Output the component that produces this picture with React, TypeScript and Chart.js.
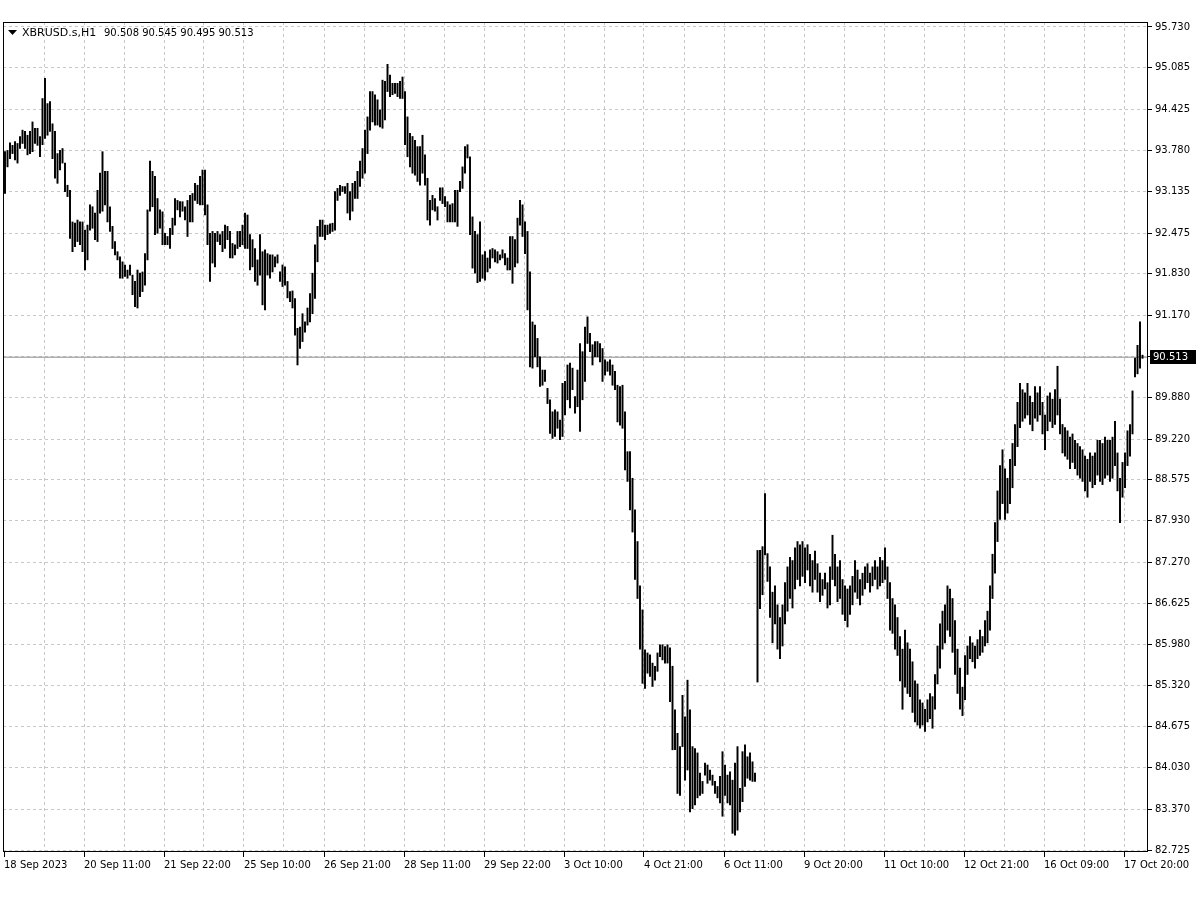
import React, { useEffect, useRef } from "react";
import { Chart, registerables } from "chart.js";
Chart.register(...registerables);

const symbolTitle = "XBRUSD.s,H1";
const lastOHLC = [90.508, 90.545, 90.495, 90.513];
const currentPrice = 90.513;

const xLabels = [
  "18 Sep 2023", "20 Sep 11:00", "21 Sep 22:00", "25 Sep 10:00", "26 Sep 21:00",
  "28 Sep 11:00", "29 Sep 22:00", "3 Oct 10:00", "4 Oct 21:00", "6 Oct 11:00",
  "9 Oct 20:00", "11 Oct 10:00", "12 Oct 21:00", "16 Oct 09:00", "17 Oct 20:00",
];

const yTickValues = [
  95.73, 95.085, 94.425, 93.78, 93.135, 92.475, 91.83, 91.17, 90.525, 89.88,
  89.22, 88.575, 87.93, 87.27, 86.625, 85.98, 85.32, 84.675, 84.03, 83.37, 82.725,
];

// hourly bar highs
const barHighs = [
  93.76, 93.78, 93.90, 93.86, 93.92, 93.89, 94.00, 94.10, 94.08, 94.02, 94.08, 94.23, 94.13, 94.13, 94.00, 94.60, 94.92, 94.52, 94.55, 94.20,
  94.08, 93.73, 93.78, 93.81, 93.58, 93.23, 93.15, 92.65, 92.63, 92.68, 92.65, 92.65, 92.52, 92.60, 92.92, 92.89, 92.79,
  93.15, 93.42, 93.76, 93.45, 93.45, 92.89, 92.58, 92.34, 92.18, 92.10, 92.02, 91.97, 91.89, 91.97, 91.81, 91.71, 91.89, 91.84, 91.86,
  92.15, 92.84, 93.61, 93.45, 93.37, 93.02, 92.84, 92.81, 92.47, 92.42, 92.55, 92.71, 93.02, 92.99, 92.97, 92.97, 92.89, 92.99, 93.07,
  93.10, 93.26, 93.23, 93.37, 93.47, 93.47, 92.92, 92.47, 92.50, 92.47, 92.50, 92.45, 92.50, 92.60, 92.58, 92.50, 92.31, 92.29, 92.50,
  92.50, 92.60, 92.79, 92.76, 92.45, 92.37, 92.23, 92.05, 92.45, 92.18, 92.21, 92.15, 92.13, 92.13, 92.10, 92.13, 91.86, 91.97, 91.94, 91.71,
  91.55, 91.56, 91.44, 90.97, 90.99, 91.20, 91.07, 91.29, 91.52, 91.84, 92.29, 92.58, 92.68, 92.68, 92.60, 92.60, 92.62, 92.63, 93.13,
  93.18, 93.23, 93.21, 93.21, 93.26, 93.13, 93.26, 93.29, 93.45, 93.61, 93.81, 94.10, 94.31, 94.71, 94.71, 94.66, 94.58, 94.42, 94.89,
  94.87, 95.14, 94.97, 94.84, 94.84, 94.84, 94.87, 94.94, 94.71, 94.31, 94.05, 94.00, 93.94, 93.84, 93.84, 94.02, 93.71, 93.34, 92.99,
  93.07, 93.02, 92.89, 93.19, 93.19, 93.05, 92.97, 92.92, 92.94, 93.15, 93.15, 93.29, 93.52, 93.84, 93.87, 93.68, 92.73, 92.50, 92.45, 92.65,
  92.13, 92.18, 92.08, 92.21, 92.23, 92.21, 92.18, 92.13, 92.21, 92.15, 92.08, 92.42, 92.42, 92.37, 92.71, 92.99, 92.92, 92.65, 92.50,
  91.86, 91.07, 91.02, 90.81, 90.52, 90.31, 90.31, 90.02, 89.84, 89.65, 89.68, 89.65, 89.52, 90.10, 90.13, 90.39, 90.42, 90.34, 89.89,
  90.31, 90.73, 90.60, 90.99, 91.15, 90.89, 90.71, 90.76, 90.76, 90.73, 90.65, 90.47, 90.44, 90.47, 90.39, 90.29, 90.07, 90.05, 90.07,
  89.65, 89.02, 89.02, 88.60, 88.10, 87.60, 86.90, 86.52, 85.89, 85.84, 85.81, 85.68, 85.63, 85.84, 85.97, 85.97, 85.94, 85.97, 85.92, 85.63,
  84.94, 84.57, 84.36, 85.17, 84.83, 85.41, 84.94, 84.36, 84.33, 84.26, 83.94, 83.81, 84.10, 84.07, 83.99, 83.91, 83.81, 83.73, 83.89,
  84.28, 84.07, 83.91, 83.96, 83.83, 84.10, 84.36, 83.70, 84.28, 84.39, 84.20, 84.26, 84.12, 83.94, 87.46, 87.46, 87.52, 88.36, 87.41,
  87.20, 86.80, 86.90, 86.60, 86.40, 86.60, 86.95, 87.20, 87.35, 87.30, 87.50, 87.60, 87.55, 87.60, 87.50, 87.55, 87.40, 87.30, 87.45,
  87.25, 87.10, 87.00, 87.10, 86.95, 87.20, 87.70, 87.40, 87.20, 87.30, 87.00, 86.90, 86.85, 86.90, 87.05, 87.30, 87.15, 87.00, 87.10,
  87.20, 87.25, 87.10, 87.20, 87.30, 87.20, 87.35, 87.30, 87.50, 87.20, 86.95, 86.70, 86.60, 86.40, 86.10, 85.90, 86.20, 86.00, 85.90,
  85.70, 85.40, 85.35, 85.10, 85.05, 84.95, 85.10, 85.20, 85.15, 85.50, 85.95, 86.30, 86.50, 86.60, 86.90, 86.85, 86.70, 86.35, 85.90, 85.60,
  85.30, 85.80, 85.95, 86.10, 86.00, 85.95, 86.05, 86.20, 86.10, 86.35, 86.50, 86.90, 87.40, 87.90, 88.40, 88.80, 89.05, 88.75, 88.60,
  88.90, 89.15, 89.45, 89.80, 90.10, 90.00, 89.95, 90.10, 89.90, 89.80, 90.05, 89.95, 90.05, 89.80, 89.60, 89.90, 89.95, 89.85, 90.00,
  90.37, 89.85, 89.45, 89.40, 89.35, 89.25, 89.30, 89.20, 89.15, 89.10, 89.05, 88.95, 88.90, 89.00, 88.95, 89.00, 89.20, 89.20,
  89.15, 89.25, 89.20, 89.20, 89.25, 89.50, 89.00, 88.60, 88.85, 89.00, 89.35, 89.45, 89.98, 90.50, 90.70, 91.07, 90.545,
];

// hourly bar lows
const barLows = [
  93.10, 93.52, 93.65, 93.73, 93.63, 93.58, 93.81, 93.89, 93.81, 93.71, 93.73, 93.76, 93.89, 93.86, 93.68, 93.87, 93.97, 94.02, 94.08, 93.65,
  93.34, 93.26, 93.47, 93.58, 93.13, 93.05, 92.39, 92.18, 92.26, 92.34, 92.29, 92.18, 91.89, 92.05, 92.52, 92.55, 92.37,
  92.34, 92.79, 92.82, 92.92, 92.65, 92.50, 92.23, 92.13, 92.05, 91.76, 91.76, 91.79, 91.76, 91.81, 91.50, 91.31, 91.29, 91.47, 91.55,
  91.65, 92.05, 92.82, 92.89, 92.45, 92.47, 92.55, 92.29, 92.29, 92.29, 92.23, 92.45, 92.60, 92.84, 92.73, 92.82, 92.68, 92.42, 92.65,
  92.65, 92.99, 92.94, 92.92, 92.92, 92.76, 92.29, 91.71, 92.00, 91.94, 92.34, 92.29, 92.18, 92.23, 92.37, 92.08, 92.08, 92.13, 92.23,
  92.26, 92.29, 92.23, 92.23, 91.89, 91.94, 91.71, 91.65, 91.81, 91.34, 91.26, 91.81, 91.76, 91.86, 91.94, 92.00, 91.71, 91.63, 91.65, 91.45,
  91.39, 91.29, 90.86, 90.39, 90.65, 90.76, 90.91, 91.02, 91.07, 91.20, 91.44, 92.02, 92.42, 92.42, 92.37, 92.45, 92.47, 92.50, 92.52,
  92.99, 93.07, 93.13, 93.10, 92.79, 92.68, 92.82, 93.02, 93.02, 93.21, 93.34, 93.42, 93.73, 94.10, 94.23, 94.18, 94.18, 94.15, 94.13,
  94.26, 94.71, 94.63, 94.66, 94.68, 94.63, 94.60, 94.60, 93.87, 93.68, 93.52, 93.42, 93.39, 93.29, 93.23, 93.42, 93.23, 92.68, 92.60,
  92.84, 92.82, 92.68, 92.99, 92.94, 92.89, 92.65, 92.65, 92.65, 92.65, 92.58, 93.13, 93.18, 93.42, 93.66, 92.45, 91.92, 91.84, 91.69, 91.71,
  91.76, 91.73, 91.86, 91.92, 92.08, 92.02, 92.00, 92.05, 92.08, 91.97, 91.89, 91.89, 91.68, 91.94, 92.00, 92.60, 92.42, 92.15, 91.26,
  90.36, 90.34, 90.52, 90.36, 90.05, 90.07, 90.13, 89.78, 89.31, 89.23, 89.26, 89.39, 89.21, 89.26, 89.60, 89.84, 89.71, 90.00, 89.63,
  89.73, 89.34, 89.84, 90.13, 90.73, 90.60, 90.39, 90.52, 90.52, 90.44, 90.13, 90.23, 90.29, 90.23, 90.07, 90.00, 89.49, 89.44, 89.39,
  88.73, 88.55, 88.10, 87.75, 87.00, 86.70, 85.90, 85.36, 85.28, 85.52, 85.47, 85.31, 85.41, 85.55, 85.78, 85.73, 85.68, 85.68, 85.07, 84.31,
  84.31, 83.62, 83.59, 84.36, 83.83, 83.99, 83.33, 83.38, 83.44, 83.55, 83.59, 83.62, 83.91, 83.78, 83.83, 83.75, 83.62, 83.55, 83.47,
  83.26, 83.59, 83.47, 83.44, 82.99, 82.96, 83.04, 83.33, 83.49, 83.73, 83.86, 83.83, 83.81, 83.81, 85.38, 86.54, 86.76, 87.39, 86.97,
  86.40, 86.00, 86.30, 85.90, 85.75, 85.95, 86.30, 86.50, 86.70, 86.55, 86.85, 87.00, 86.90, 87.05, 86.95, 87.15, 86.90, 86.80, 87.00,
  86.80, 86.65, 86.75, 86.85, 86.55, 86.60, 87.00, 86.90, 86.65, 86.70, 86.45, 86.35, 86.25, 86.45, 86.60, 86.80, 86.70, 86.60, 86.75,
  86.85, 86.95, 86.80, 86.90, 87.00, 86.85, 86.90, 86.95, 87.00, 86.70, 86.20, 86.15, 85.90, 85.80, 85.40, 84.95, 85.30, 85.20, 85.15,
  84.90, 84.75, 84.70, 84.65, 84.70, 84.60, 84.75, 84.80, 84.65, 84.95, 85.35, 85.60, 85.90, 86.00, 86.20, 86.10, 85.85, 85.50, 85.20, 84.95,
  84.85, 85.10, 85.50, 85.75, 85.70, 85.60, 85.75, 85.80, 85.85, 85.95, 86.00, 86.20, 86.70, 87.10, 87.60, 87.95, 88.20, 87.95, 88.05,
  88.20, 88.45, 88.80, 89.10, 89.40, 89.50, 89.55, 89.60, 89.45, 89.35, 89.55, 89.50, 89.60, 89.30, 89.05, 89.35, 89.50, 89.40, 89.45,
  89.60, 89.30, 89.00, 88.95, 88.90, 88.75, 88.85, 88.75, 88.65, 88.60, 88.55, 88.40, 88.30, 88.55, 88.45, 88.50, 88.65, 88.55,
  88.50, 88.60, 88.65, 88.55, 88.60, 88.80, 88.40, 87.90, 88.30, 88.45, 88.80, 88.95, 89.30, 90.20, 90.25, 90.34, 90.495,
];

const FONT = "DejaVu Sans";

export default function App() {
  const ref = useRef<HTMLCanvasElement | null>(null);

  useEffect(() => {
    document.body.style.margin = "0";
    const canvas = ref.current;
    if (!canvas) return;
    const n = barHighs.length;
    const xMin = -0.8;
    const xMax = n + 1.2;

    const overlay = {
      id: "mtOverlay",
      afterDraw(chart: any) {
        const { ctx, chartArea } = chart;
        const ys = chart.scales.y;
        ctx.save();
        // frame
        ctx.strokeStyle = "#000";
        ctx.lineWidth = 1;
        ctx.strokeRect(
          Math.round(chartArea.left) + 0.5,
          Math.round(chartArea.top) + 0.5,
          Math.round(chartArea.right - chartArea.left) - 1,
          Math.round(chartArea.bottom - chartArea.top) - 1
        );
        // header
        ctx.fillStyle = "#000";
        ctx.beginPath();
        ctx.moveTo(8, 30);
        ctx.lineTo(17, 30);
        ctx.lineTo(12.5, 35);
        ctx.closePath();
        ctx.fill();
        ctx.textBaseline = "middle";
        ctx.textAlign = "left";
        ctx.font = `11px "${FONT}"`;
        ctx.fillText(symbolTitle, 22, 33);
        ctx.font = `10px "${FONT}"`;
        ctx.fillText(lastOHLC.map((v) => v.toFixed(3)).join(" "), 104, 33);
        // current price label
        const py = Math.round(ys.getPixelForValue(currentPrice));
        ctx.fillStyle = "#000";
        ctx.fillRect(chartArea.right + 2, py - 7, 46, 14);
        ctx.fillStyle = "#fff";
        ctx.fillText(currentPrice.toFixed(3), chartArea.right + 5, py + 0.5);
        ctx.restore();
      },
    };

    const chart = new Chart(canvas, {
      type: "bar",
      data: {
        datasets: [
          {
            type: "bar",
            data: barHighs.map((h, i) => ({ x: i, y: [barLows[i], h] })) as any,
            backgroundColor: "#000",
            borderWidth: 0,
            barThickness: 1.3,
            order: 1,
          } as any,
          {
            type: "line",
            data: [
              { x: xMin, y: currentPrice },
              { x: xMax, y: currentPrice },
            ],
            borderColor: "#8c8c8c",
            borderWidth: 1,
            pointRadius: 0,
            order: 2,
          } as any,
        ],
      },
      options: {
        responsive: false,
        animation: false,
        devicePixelRatio: 1,
        layout: { padding: { left: 3, top: 22, right: 0, bottom: 0 } },
        plugins: {
          legend: { display: false },
          tooltip: { enabled: false },
        },
        scales: {
          x: {
            type: "linear",
            offset: false,
            min: xMin,
            max: xMax,
            afterBuildTicks: (s: any) => {
              s.ticks = Array.from({ length: 29 }, (_, m) => ({ value: 16 * m - 0.4 }));
            },
            afterFit: (s: any) => {
              s.height = 48;
              s.paddingLeft = 0;
              s.paddingRight = 0;
            },
            grid: {
              offset: false,
              color: (c: any) => (c.index === 0 ? "rgba(0,0,0,0)" : "#c8c8c8"),
              tickColor: (c: any) => (c.index % 2 === 0 ? "#000" : "rgba(0,0,0,0)"),
              tickLength: 5,
              lineWidth: 1,
            },
            border: { display: false, dash: [3, 3] },
            ticks: {
              autoSkip: false,
              maxRotation: 0,
              minRotation: 0,
              align: "start",
              padding: 2,
              color: "#000",
              font: { family: FONT, size: 10 },
              callback: (_v: any, i: number) => (i % 2 === 0 ? xLabels[i / 2] : ""),
            },
          },
          y: {
            type: "linear",
            position: "right",
            min: 82.695,
            max: 95.809,
            afterBuildTicks: (s: any) => {
              s.ticks = yTickValues.map((v) => ({ value: v }));
            },
            afterFit: (s: any) => {
              s.width = 52;
            },
            grid: {
              color: "#c8c8c8",
              tickColor: "#000",
              tickLength: 4,
              lineWidth: 1,
            },
            border: { display: false, dash: [3, 3] },
            ticks: {
              autoSkip: false,
              padding: 3,
              color: "#000",
              font: { family: FONT, size: 10 },
              callback: (v: any) => Number(v).toFixed(3),
            },
          },
        },
      } as any,
      plugins: [overlay],
    });

    return () => chart.destroy();
  }, []);

  return (
    <div style={{ width: 1200, height: 900, background: "#fff" }}>
      <canvas ref={ref} width={1200} height={900} style={{ display: "block" }} />
    </div>
  );
}
